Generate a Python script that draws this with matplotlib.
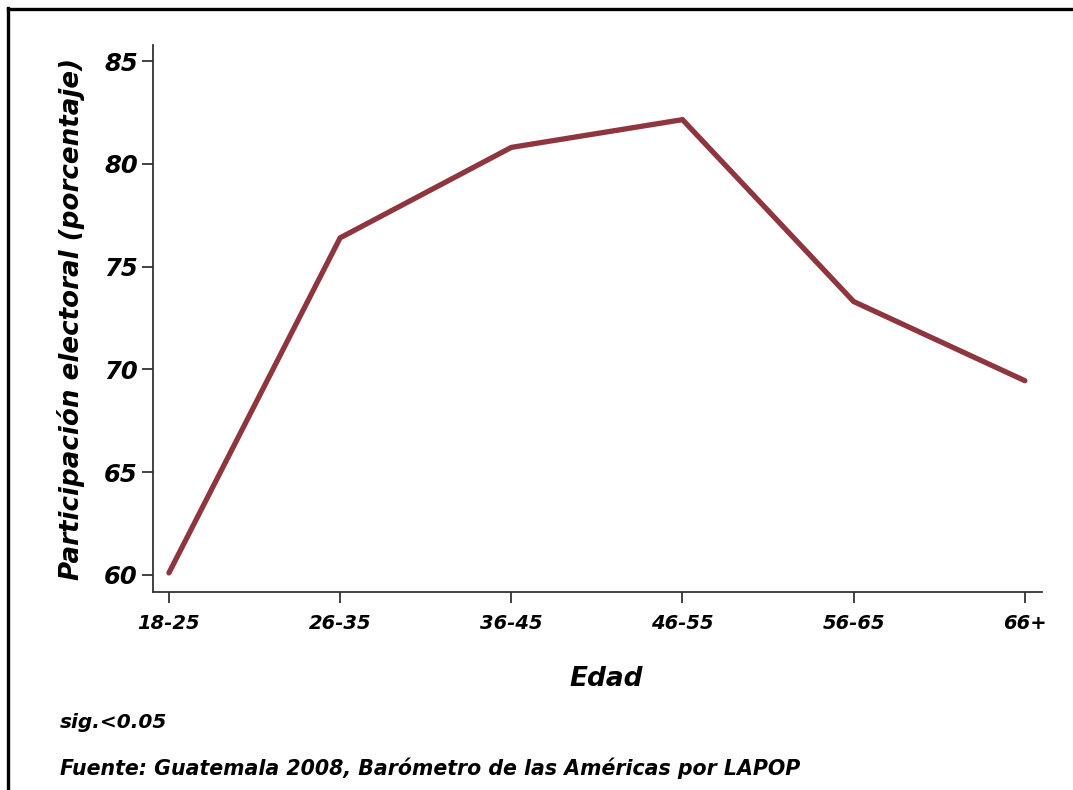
import matplotlib
matplotlib.use('Agg')
import matplotlib.pyplot as plt
from matplotlib.lines import Line2D

# Participacion electoral por edad, Guatemala 2008
edad = ['18-25', '26-35', '36-45', '46-55', '56-65', '66+']
participacion = [60.1, 76.4, 80.8, 82.15, 73.3, 69.45]
y_ticks = [60, 65, 70, 75, 80, 85]

font = dict(family='DejaVu Sans', weight='bold', style='italic')

fig = plt.figure(figsize=(10.73, 7.9), dpi=100)
ax = fig.add_axes([0.1426, 0.2506, 0.8285, 0.6924])

x = list(range(len(edad)))
ax.plot(x, participacion, color='#8E353D', linewidth=3.8, solid_capstyle='round',
        solid_joinstyle='miter')

ax.set_xlim(-0.093, 5.1)
ax.set_ylim(59.17, 85.78)
ax.set_xticks(x)
ax.set_xticklabels(edad, fontdict=dict(font, size=14))
ax.set_yticks(y_ticks)
ax.set_yticklabels([str(v) for v in y_ticks], fontdict=dict(font, size=17.5))

for side in ['top', 'right']:
    ax.spines[side].set_visible(False)
for side in ['left', 'bottom']:
    ax.spines[side].set_color('#333333')
    ax.spines[side].set_linewidth(1.3)
ax.tick_params(direction='out', length=8, width=1.3, color='#333333')
ax.tick_params(axis='y', pad=3)
ax.tick_params(axis='x', pad=8)

ax.set_ylabel('Participación electoral (porcentaje)', fontdict=dict(font, size=18.8), labelpad=14)
ax.set_xlabel('Edad', fontdict=dict(font, size=19), labelpad=26)
ax.xaxis.set_label_coords(0.5096, -0.135)

fig.text(0.056, 0.086, 'sig.<0.05', fontdict=dict(font, size=14.5), va='center')
fig.text(0.056, 0.027, 'Fuente: Guatemala 2008, Barómetro de las Américas por LAPOP',
         fontdict=dict(font, size=14.8), va='center')

# frame lines at top and left
fig.add_artist(Line2D([7.5 / 1073, 1.0], [1 - 8.5 / 790, 1 - 8.5 / 790],
                      transform=fig.transFigure, color='black', linewidth=2.4))
fig.add_artist(Line2D([7.5 / 1073, 7.5 / 1073], [0.0, 1 - 7.5 / 790],
                      transform=fig.transFigure, color='black', linewidth=2.4))

fig.savefig('out.png', dpi=100)
